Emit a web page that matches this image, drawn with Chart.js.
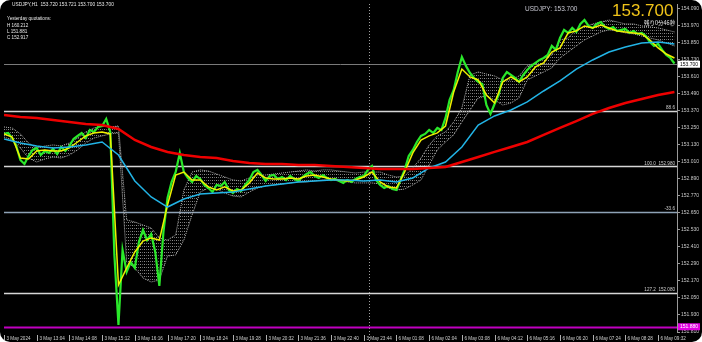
<!DOCTYPE html>
<html>
<head>
<meta charset="utf-8">
<script src="https://cdn.jsdelivr.net/npm/chart.js@4.4.0/dist/chart.umd.min.js"></script>
<style>
    html, body { margin: 0; padding: 0; background: #fff; }
    #quadro { position: relative; width: 702px; height: 342px; background: #000; border-radius: 10px; overflow: hidden; }
    #grafico { position: absolute; left: 0; top: 0; }
    .info { position: absolute; color: #e8e8e8; font-family: "Liberation Sans", sans-serif; white-space: pre; line-height: 1; }
</style>
</head>
<body>
<div id="quadro">
    <canvas id="grafico" width="702" height="342"></canvas>
    <div class="info" style="left:12px;top:3px;font-size:4.8px">USDJPY,H1  153.720 153.721 153.700 153.700</div>
    <div class="info" style="left:7px;top:17px;font-size:4.6px">Yesterday quotations:</div>
    <div class="info" style="left:7px;top:23.5px;font-size:4.6px">H 160.212</div>
    <div class="info" style="left:7px;top:29.5px;font-size:4.6px">L 151.881</div>
    <div class="info" style="left:7px;top:35.5px;font-size:4.6px">C 152.917</div>
    <div class="info" style="left:525px;top:6px;font-size:6.5px;color:#c8c8d2">USDJPY: 153.700</div>
    <div class="info" style="left:612px;top:2px;font-size:17px;color:#f0c419">153.700</div>
    <div class="info" style="left:644px;top:21px;font-size:5.5px;font-family:'Noto Sans CJK JP',sans-serif">残り0分46秒</div>
</div>
<script>
// rótulos do eixo de tempo (um a cada 64 barras)
const rotulosTempo = ['3 May 2024', '3 May 13:04', '3 May 14:08', '3 May 15:12', '3 May 16:16', '3 May 17:20',
    '3 May 18:24', '3 May 19:28', '3 May 20:32', '3 May 21:36', '3 May 22:40', '3 May 23:44', '6 May 01:08',
    '6 May 02:04', '6 May 03:08', '6 May 04:12', '6 May 05:16', '6 May 06:20', '6 May 07:24', '6 May 08:28', '6 May 09:32'];

const precoTicks = [151.81, 151.93, 152.05, 152.17, 152.29, 152.41, 152.53, 152.65, 152.77, 152.89,
    153.01, 153.13, 153.25, 153.37, 153.49, 153.61, 153.73, 153.85, 153.97, 154.09];

// preço (a cada 8 barras)
const precoVerde = [
    153.208, 153.215, 153.179, 153.123, 153.024, 152.996, 153.052, 153.095, 153.109, 153.059,
    153.088, 153.074, 153.102, 153.066, 153.116, 153.088, 153.123, 153.172, 153.194, 153.215,
    153.179, 153.236, 153.222, 153.257, 153.264, 153.314, 153.222, 152.354, 151.859, 152.389,
    152.234, 152.304, 152.262, 152.445, 152.530, 152.459, 152.502, 152.375, 152.135, 152.516,
    152.756, 152.869, 152.939, 153.074, 152.939, 152.897, 152.869, 152.911, 152.890, 152.848,
    152.826, 152.798, 152.848, 152.841, 152.869, 152.812, 152.791, 152.819, 152.805, 152.848,
    152.883, 152.939, 152.954, 152.918, 152.876, 152.911, 152.918, 152.890, 152.904, 152.883,
    152.911, 152.890, 152.876, 152.904, 152.925, 152.939, 152.911, 152.897, 152.918, 152.897,
    152.883, 152.890, 152.876, 152.862, 152.883, 152.869, 152.890, 152.904, 152.911, 152.954,
    152.982, 152.883, 152.848, 152.826, 152.841, 152.819, 152.812, 152.883, 152.954, 153.052,
    153.095, 153.151, 153.194, 153.208, 153.236, 153.215, 153.250, 153.236, 153.321, 153.448,
    153.518, 153.645, 153.751, 153.688, 153.638, 153.603, 153.575, 153.561, 153.412, 153.349,
    153.419, 153.483, 153.603, 153.645, 153.624, 153.603, 153.575, 153.624, 153.659, 153.688,
    153.709, 153.730, 153.744, 153.765, 153.829, 153.801, 153.885, 153.942, 153.921, 153.956,
    153.928, 153.984, 154.012, 153.970, 153.956, 153.984, 153.998, 153.963, 153.949, 153.963,
    153.935, 153.942, 153.949, 153.921, 153.935, 153.914, 153.921, 153.899, 153.857, 153.829,
    153.843, 153.801, 153.765, 153.744, 153.705
];

// média rápida (a cada 16 barras)
const mediaAmarela = [
    153.208, 153.186, 153.038, 153.031, 153.088, 153.095, 153.088, 153.088, 153.109, 153.151,
    153.194, 153.215, 153.222, 153.208, 152.142, 152.262, 152.375, 152.452, 152.474, 152.459,
    152.706, 152.918, 152.939, 152.883, 152.883, 152.834, 152.812, 152.834, 152.805, 152.812,
    152.862, 152.932, 152.897, 152.890, 152.890, 152.897, 152.890, 152.911, 152.918, 152.904,
    152.890, 152.883, 152.876, 152.883, 152.904, 152.939, 152.869, 152.834, 152.826, 152.939,
    153.074, 153.165, 153.194, 153.215, 153.264, 153.504, 153.666, 153.610, 153.589, 153.483,
    153.426, 153.575, 153.610, 153.575, 153.610, 153.681, 153.709, 153.786, 153.815, 153.921,
    153.935, 153.970, 153.956, 153.977, 153.956, 153.935, 153.928, 153.921, 153.914, 153.871,
    153.815, 153.772, 153.744
];

// média intermediária e média longa (a cada 32 barras)
const mediaCiano = [
    153.172, 153.144, 153.123, 153.109, 153.116, 153.130, 153.151, 153.059, 152.876, 152.763,
    152.692, 152.749, 152.784, 152.791, 152.798, 152.819, 152.841, 152.855, 152.869, 152.876,
    152.883, 152.883, 152.876, 152.883, 152.869, 152.897, 152.968, 153.010, 153.116, 153.271,
    153.335, 153.377, 153.434, 153.511, 153.582, 153.666, 153.730, 153.786, 153.822, 153.850,
    153.857, 153.843
];

const mediaVermelha = [
    153.342, 153.328, 153.321, 153.306, 153.292, 153.278, 153.271, 153.243, 153.165, 153.116,
    153.081, 153.059, 153.045, 153.038, 153.017, 153.003, 152.996, 152.996, 152.989, 152.989,
    152.982, 152.975, 152.968, 152.961, 152.961, 152.961, 152.968, 152.975, 153.010, 153.045,
    153.081, 153.116, 153.151, 153.201, 153.250, 153.299, 153.349, 153.391, 153.426, 153.455,
    153.483, 153.504
];

// faixa pontilhada deslocada (a cada 16 barras)
const faixaSuperior = [
    153.257, 153.250, 153.208, 153.144, 153.109, 153.123, 153.130, 153.123, 153.144, 153.179,
    153.222, 153.250, 153.264, 153.257, 153.264, 152.601, 152.586, 152.565, 152.544, 152.474,
    152.459, 152.495, 152.812, 152.939, 152.954, 152.946, 152.925, 152.904, 152.883, 152.876,
    152.897, 152.918, 152.918, 152.925, 152.932, 152.939, 152.946, 152.954, 152.946, 152.954,
    152.954, 152.946, 152.939, 152.932, 152.939, 152.939, 152.939, 152.918, 152.904, 152.911,
    152.968, 153.038, 153.130, 153.194, 153.222, 153.292, 153.391, 153.624, 153.645, 153.631,
    153.617, 153.589, 153.589, 153.617, 153.688, 153.709, 153.744, 153.765, 153.871, 153.885,
    153.942, 153.963, 153.984, 153.998, 154.012, 153.998, 153.984, 153.984, 153.970, 153.963,
    153.956, 153.942, 153.928
];

const faixaInferior = [
    153.186, 153.165, 153.109, 153.038, 153.010, 153.031, 153.045, 153.038, 153.059, 153.095,
    153.144, 153.179, 153.194, 153.208, 153.215, 152.304, 152.262, 152.191, 152.163, 152.177,
    152.346, 152.354, 152.459, 152.636, 152.798, 152.826, 152.819, 152.791, 152.770, 152.763,
    152.798, 152.826, 152.841, 152.848, 152.855, 152.862, 152.869, 152.869, 152.876, 152.883,
    152.883, 152.876, 152.869, 152.862, 152.862, 152.862, 152.855, 152.826, 152.812, 152.819,
    152.848, 152.883, 152.989, 153.095, 153.151, 153.201, 153.292, 153.377, 153.462, 153.476,
    153.448, 153.412, 153.426, 153.462, 153.589, 153.617, 153.645, 153.674, 153.744, 153.786,
    153.829, 153.871, 153.899, 153.928, 153.942, 153.935, 153.921, 153.914, 153.899, 153.885,
    153.871, 153.850, 153.829
];

// linhas horizontais (preço atual, fibo e mínima)
const niveisPreco = [153.700, 153.373, 152.980, 152.657, 152.087, 151.847];
const niveisRotulo = ['', '88.6', '100.0  152.980', '-33.6', '127.2  152.080', ''];
const precoAtual = '153.700';
const precoMinima = '151.880';
const barraSeparador = 714;

const estilosNivel = [
    { cor: '#7a7a7a', largura: 1 },
    { cor: '#d6d6d6', largura: 1.5 },
    { cor: '#d6d6d6', largura: 1.5 },
    { cor: '#8ea2b6', largura: 1.5 },
    { cor: '#d6d6d6', largura: 1.5 },
    { cor: '#c000c0', largura: 2 }
];

function serie(valores, passo) {
    return valores.map((v, i) => ({ x: i * passo, y: v }));
}

// padrão de pontos cinza para a faixa
function criarPadraoPontos() {
    const c = document.createElement('canvas');
    c.width = 4;
    c.height = 3;
    const g = c.getContext('2d');
    g.fillStyle = '#8c8c8c';
    g.fillRect(0, 0, 1, 1);
    g.fillStyle = '#5e5e5e';
    g.fillRect(2, 0, 1, 1);
    return g.createPattern(c, 'repeat');
}

const fonteMini = '4.6px "Liberation Sans", sans-serif';

const pluginNiveis = {
    id: 'niveis',
    beforeDatasetsDraw(chart) {
        const { ctx, chartArea: a, scales: { x, y } } = chart;
        ctx.save();
        niveisPreco.forEach((p, i) => {
            const py = Math.round(y.getPixelForValue(p)) + 0.5;
            ctx.strokeStyle = estilosNivel[i].cor;
            ctx.lineWidth = estilosNivel[i].largura;
            ctx.beginPath();
            ctx.moveTo(a.left, py);
            ctx.lineTo(a.right, py);
            ctx.stroke();
        });
        const sx = Math.round(x.getPixelForValue(barraSeparador)) + 0.5;
        ctx.setLineDash([1, 2]);
        ctx.strokeStyle = '#a0a0a0';
        ctx.lineWidth = 1;
        ctx.beginPath();
        ctx.moveTo(sx, a.top);
        ctx.lineTo(sx, chart.height);
        ctx.stroke();
        ctx.restore();
    },
    afterDatasetsDraw(chart) {
        const { ctx, chartArea: a, scales: { y } } = chart;
        ctx.save();
        ctx.font = fonteMini;
        ctx.fillStyle = '#d0d0d0';
        ctx.textAlign = 'right';
        ctx.textBaseline = 'bottom';
        niveisPreco.forEach((p, i) => {
            if (!niveisRotulo[i]) return;
            ctx.fillText(niveisRotulo[i], a.right - 2, y.getPixelForValue(p) - 0.5);
        });
        ctx.restore();
    },
    afterDraw(chart) {
        const { ctx, chartArea: a, scales: { x, y } } = chart;
        ctx.save();
        // caixas no eixo de preço
        const caixa = (preco, texto, fundo, corTexto) => {
            const py = y.getPixelForValue(preco);
            ctx.fillStyle = fundo;
            ctx.fillRect(a.right + 1, py - 3.5, 22, 7);
            ctx.fillStyle = corTexto;
            ctx.font = '5px "Liberation Sans", sans-serif';
            ctx.textAlign = 'left';
            ctx.textBaseline = 'middle';
            ctx.fillText(texto, a.right + 3, py);
        };
        caixa(niveisPreco[0], precoAtual, '#ffffff', '#000000');
        caixa(niveisPreco[5], precoMinima, '#e000e0', '#ffffff');

        // eixo de tempo
        ctx.font = fonteMini;
        ctx.textAlign = 'left';
        ctx.textBaseline = 'middle';
        ctx.strokeStyle = '#b0b0b0';
        ctx.lineWidth = 1;
        rotulosTempo.forEach((r, i) => {
            const px = Math.round(x.getPixelForValue(i * 64)) + 0.5;
            ctx.beginPath();
            ctx.moveTo(px, a.bottom + 3);
            ctx.lineTo(px, a.bottom + 9);
            ctx.stroke();
            ctx.fillStyle = '#d0d0d0';
            ctx.fillText(r, px + 2, a.bottom + 6.5);
        });
        ctx.restore();
    }
};

const ctx = document.getElementById('grafico').getContext('2d');
const padrao = criarPadraoPontos();

const config = {
    type: 'line',
    data: {
        datasets: [
            {
                data: serie(faixaSuperior, 16),
                borderColor: '#b4b4b4',
                borderWidth: 1,
                borderDash: [1, 1],
                fill: false,
                order: 5
            },
            {
                data: serie(faixaInferior, 16),
                borderColor: '#b4b4b4',
                borderWidth: 1,
                borderDash: [1, 1],
                backgroundColor: padrao,
                fill: '-1',
                order: 5
            },
            {
                data: serie(precoVerde, 8),
                borderColor: '#2ae82a',
                borderWidth: 2.2,
                order: 4
            },
            {
                data: serie(mediaAmarela, 16),
                borderColor: '#f0f000',
                borderWidth: 1.5,
                order: 3
            },
            {
                data: serie(mediaCiano, 32),
                borderColor: '#22b4e6',
                borderWidth: 1.5,
                order: 2
            },
            {
                data: serie(mediaVermelha, 32),
                borderColor: '#ee0000',
                borderWidth: 2.5,
                order: 1
            }
        ]
    },
    options: {
        responsive: false,
        animation: false,
        layout: { padding: { left: 4, top: 4, bottom: 10, right: 0 } },
        elements: { point: { radius: 0 }, line: { tension: 0 } },
        plugins: { legend: { display: false }, tooltip: { enabled: false } },
        scales: {
            x: { type: 'linear', min: 0, max: 1317, display: false },
            y: {
                position: 'right',
                min: 151.81,
                max: 154.125,
                afterBuildTicks: s => { s.ticks = precoTicks.map(v => ({ value: v })); },
                afterFit: s => { s.width = 25; },
                grid: { drawOnChartArea: false, color: '#9a9a9a', tickLength: 3 },
                border: { display: true, color: '#9a9a9a' },
                ticks: {
                    color: '#c8c8c8',
                    padding: 1,
                    font: { size: 5, family: 'Liberation Sans' },
                    callback: v => Number(v).toFixed(3)
                }
            }
        }
    },
    plugins: [pluginNiveis]
};

window.chartUsdJpy = new Chart(ctx, config);
</script>
</body>
</html>
